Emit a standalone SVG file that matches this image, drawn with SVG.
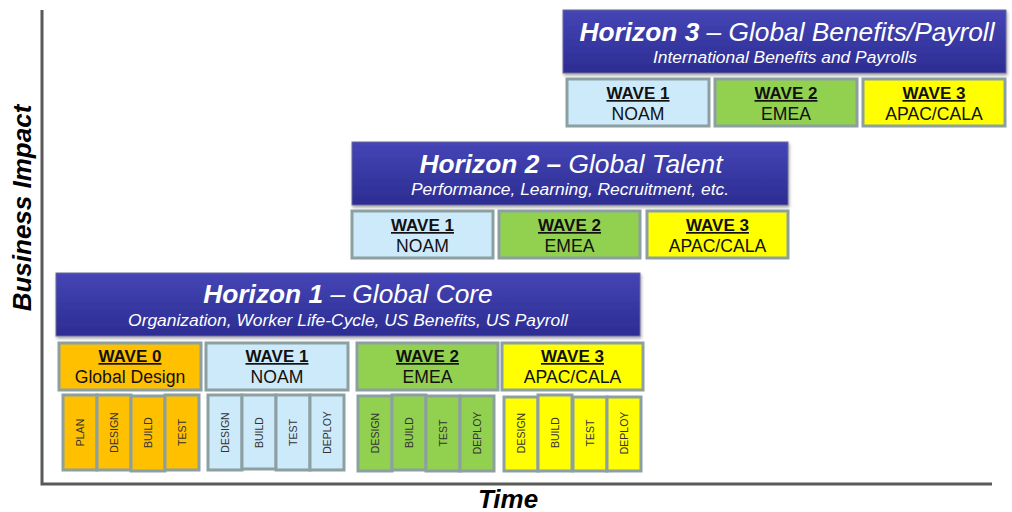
<svg xmlns="http://www.w3.org/2000/svg" width="1012" height="512" viewBox="0 0 1012 512">
<defs>
<linearGradient id="hzg" x1="0" y1="0" x2="0" y2="1"><stop offset="0" stop-color="#4545b6"/><stop offset="1" stop-color="#2c2c92"/></linearGradient>
<filter id="sh" x="-5%" y="-10%" width="110%" height="140%"><feDropShadow dx="1" dy="2" stdDeviation="1.5" flood-color="#000" flood-opacity="0.35"/></filter>
</defs>
<style>
.hz{fill:url(#hzg);stroke:#6b6b9a;stroke-width:1;filter:url(#sh)}
.t{font-family:"Liberation Sans",Arial,sans-serif;fill:#fff;font-style:italic;text-anchor:middle}
.ht{font-size:26.3px}
.hb{font-weight:bold}
.hs{font-size:17.4px}
.wv{stroke:#8c9fa1;stroke-width:3}
.blue{fill:#cdeafb}.green{fill:#92d050}.yellow{fill:#ffff00}.orange{fill:#ffc000}
.wl{font-family:"Liberation Sans",Arial,sans-serif;font-size:17.6px;fill:#111;text-anchor:middle}
.wb{font-weight:bold;text-decoration:underline;font-size:17px}
.ph{font-family:"Liberation Sans",Arial,sans-serif;font-size:10.5px;fill:#333;text-anchor:middle}
.ax{stroke:#595959;stroke-width:3;fill:none}
.al{font-family:"Liberation Sans",Arial,sans-serif;font-size:26px;font-weight:bold;font-style:italic;fill:#000;text-anchor:middle}
</style>
<rect width="1012" height="512" fill="#fff"/>
<g id="axes">
<path class="ax" d="M42 10 V484 H992"/>
<text class="al" transform="translate(31 208) rotate(-90)">Business Impact</text>
<text class="al" x="508" y="508">Time</text>
</g>

<g id="horizon3">
<rect class="hz" x="563" y="10" width="443" height="63"/>
<text class="t ht" x="787" y="41"><tspan class="hb">Horizon 3</tspan> – Global Benefits/Payroll</text>
<text class="t hs" x="785" y="63">International Benefits and Payrolls</text>
</g>
<g id="h3-wave1"><rect class="wv blue" x="567" y="79" width="142" height="47"/><text class="wl" x="638" y="99"><tspan class="wb">WAVE 1</tspan></text><text class="wl" x="638" y="120">NOAM</text></g>
<g id="h3-wave2"><rect class="wv green" x="715" y="79" width="142" height="47"/><text class="wl" x="786" y="99"><tspan class="wb">WAVE 2</tspan></text><text class="wl" x="786" y="120">EMEA</text></g>
<g id="h3-wave3"><rect class="wv yellow" x="863" y="79" width="142" height="47"/><text class="wl" x="934" y="99"><tspan class="wb">WAVE 3</tspan></text><text class="wl" x="934" y="120">APAC/CALA</text></g>

<g id="horizon2">
<rect class="hz" x="352" y="142" width="436" height="63"/>
<text class="t ht" x="571" y="173"><tspan class="hb">Horizon 2 –</tspan> Global Talent</text>
<text class="t hs" x="570" y="195">Performance, Learning, Recruitment, etc.</text>
</g>
<g id="h2-wave1"><rect class="wv blue" x="352" y="211" width="141" height="47"/><text class="wl" x="422.5" y="231"><tspan class="wb">WAVE 1</tspan></text><text class="wl" x="422.5" y="252">NOAM</text></g>
<g id="h2-wave2"><rect class="wv green" x="499" y="211" width="141" height="47"/><text class="wl" x="569.5" y="231"><tspan class="wb">WAVE 2</tspan></text><text class="wl" x="569.5" y="252">EMEA</text></g>
<g id="h2-wave3"><rect class="wv yellow" x="647" y="211" width="141" height="47"/><text class="wl" x="717.5" y="231"><tspan class="wb">WAVE 3</tspan></text><text class="wl" x="717.5" y="252">APAC/CALA</text></g>

<g id="horizon1">
<rect class="hz" x="56" y="273" width="584" height="63"/>
<text class="t ht" x="348" y="303"><tspan class="hb">Horizon 1</tspan> – Global Core</text>
<text class="t hs" x="348" y="326">Organization, Worker Life-Cycle, US Benefits, US Payroll</text>
</g>
<g id="h1-wave0"><rect class="wv orange" x="59" y="343" width="142" height="47"/><text class="wl" x="130" y="362"><tspan class="wb">WAVE 0</tspan></text><text class="wl" x="130" y="383">Global Design</text></g>
<g id="h1-wave1"><rect class="wv blue" x="206" y="343" width="142" height="47"/><text class="wl" x="277" y="362"><tspan class="wb">WAVE 1</tspan></text><text class="wl" x="277" y="383">NOAM</text></g>
<g id="h1-wave2"><rect class="wv green" x="357" y="343" width="141" height="47"/><text class="wl" x="427.5" y="362"><tspan class="wb">WAVE 2</tspan></text><text class="wl" x="427.5" y="383">EMEA</text></g>
<g id="h1-wave3"><rect class="wv yellow" x="502" y="343" width="141" height="47"/><text class="wl" x="572.5" y="362"><tspan class="wb">WAVE 3</tspan></text><text class="wl" x="572.5" y="383">APAC/CALA</text></g>

<g id="w0-phases">
<rect class="wv orange" x="63" y="395" width="34" height="75"/><text class="ph" transform="translate(80 432.5) rotate(-90)" y="3.7">PLAN</text>
<rect class="wv orange" x="97" y="395" width="34" height="75"/><text class="ph" transform="translate(114 432.5) rotate(-90)" y="3.7">DESIGN</text>
<rect class="wv orange" x="131" y="396" width="34" height="75"/><text class="ph" transform="translate(148 432.5) rotate(-90)" y="3.7">BUILD</text>
<rect class="wv orange" x="165" y="395" width="34" height="75"/><text class="ph" transform="translate(182 432.5) rotate(-90)" y="3.7">TEST</text>
</g>
<g id="w1-phases">
<rect class="wv blue" x="208" y="395" width="34" height="75"/><text class="ph" transform="translate(225 432.5) rotate(-90)" y="3.7">DESIGN</text>
<rect class="wv blue" x="242" y="395" width="34" height="74"/><text class="ph" transform="translate(259 432.5) rotate(-90)" y="3.7">BUILD</text>
<rect class="wv blue" x="276" y="395" width="34" height="75"/><text class="ph" transform="translate(293 432.5) rotate(-90)" y="3.7">TEST</text>
<rect class="wv blue" x="310" y="395" width="34" height="75"/><text class="ph" transform="translate(327 432.5) rotate(-90)" y="3.7">DEPLOY</text>
</g>
<g id="w2-phases">
<rect class="wv green" x="358" y="396" width="34" height="75"/><text class="ph" transform="translate(375 433) rotate(-90)" y="3.7">DESIGN</text>
<rect class="wv green" x="392" y="395" width="34" height="75"/><text class="ph" transform="translate(409 432.5) rotate(-90)" y="3.7">BUILD</text>
<rect class="wv green" x="426" y="396" width="34" height="75"/><text class="ph" transform="translate(443 433) rotate(-90)" y="3.7">TEST</text>
<rect class="wv green" x="460" y="396" width="34" height="75"/><text class="ph" transform="translate(477 433) rotate(-90)" y="3.7">DEPLOY</text>
</g>
<g id="w3-phases">
<rect class="wv yellow" x="504" y="397" width="34" height="74"/><text class="ph" transform="translate(521 433) rotate(-90)" y="3.7">DESIGN</text>
<rect class="wv yellow" x="538" y="395" width="34" height="76"/><text class="ph" transform="translate(555 432.5) rotate(-90)" y="3.7">BUILD</text>
<rect class="wv yellow" x="573" y="397" width="34" height="74"/><text class="ph" transform="translate(590 433) rotate(-90)" y="3.7">TEST</text>
<rect class="wv yellow" x="607" y="397" width="34" height="74"/><text class="ph" transform="translate(624 433) rotate(-90)" y="3.7">DEPLOY</text>
</g>
</svg>
